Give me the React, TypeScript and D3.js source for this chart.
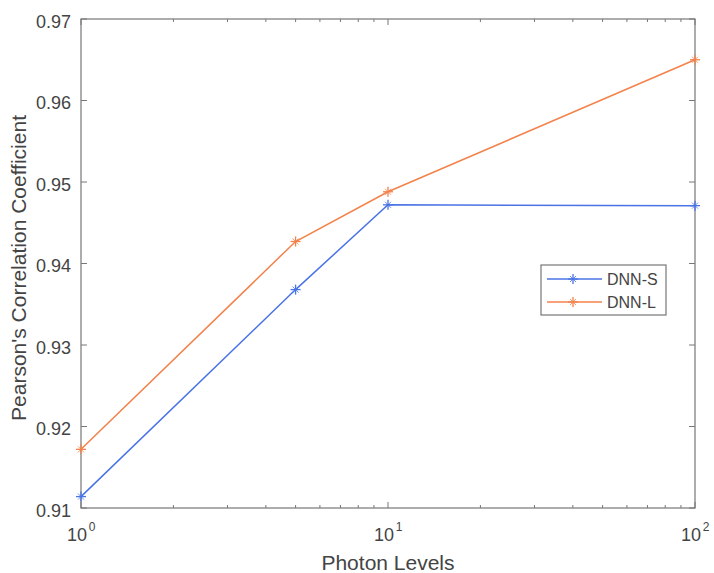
import React from "react";
import * as d3 from "d3";

const photonLevels = [1, 5, 10, 100];
const dnnS = [0.9114, 0.9368, 0.9472, 0.9471];
const dnnL = [0.9172, 0.9427, 0.9488, 0.965];
const yTicks = [0.91, 0.92, 0.93, 0.94, 0.95, 0.96, 0.97];
const xMajor = [1, 10, 100];
const xExp = ["0", "1", "2"];
const seriesNames = ["DNN-S", "DNN-L"];
const seriesColors = ["#4a73e6", "#f3824a"];

export default function App() {
  const W = 714, H = 573;
  const L = 81, R = 695, T = 19, B = 508;
  const x = d3.scaleLog().domain([1, 100]).range([L, R]);
  const y = d3.scaleLinear().domain([0.91, 0.97]).range([B, T]);
  const minor: number[] = [];
  for (const d of [1, 10]) for (let k = 2; k <= 9; k++) minor.push(d * k);
  const line = d3.line<[number, number]>().x(d => x(d[0])).y(d => y(d[1]));
  const series = [dnnS, dnnL];
  const axisColor = "#777";
  const textColor = "#444";
  const font = "Liberation Sans, Arial, sans-serif";
  const star = (cx: number, cy: number, c: string, k: string) => (
    <g key={k} stroke={c} strokeWidth={1.3}>
      <line x1={cx - 5} y1={cy} x2={cx + 5} y2={cy} />
      <line x1={cx} y1={cy - 5} x2={cx} y2={cy + 5} />
      <line x1={cx - 3} y1={cy - 3} x2={cx + 3} y2={cy + 3} strokeWidth={0.8} />
      <line x1={cx - 3} y1={cy + 3} x2={cx + 3} y2={cy - 3} strokeWidth={0.8} />
    </g>
  );
  return (
    <svg width={W} height={H} style={{ position: "absolute", left: 0, top: 0 }} fontFamily={font}>
      <rect x={0} y={0} width={W} height={H} fill="#fff" />
      <rect x={L} y={T} width={R - L} height={B - T} fill="none" stroke={axisColor} strokeWidth={1.2} />
      {yTicks.map(t => (
        <g key={"y" + t}>
          <line x1={L} x2={L + 6} y1={y(t)} y2={y(t)} stroke={axisColor} />
          <line x1={R} x2={R - 6} y1={y(t)} y2={y(t)} stroke={axisColor} />
          <text x={71} y={y(t) + 8.5} textAnchor="end" fontSize={18} fill={textColor}>{t.toFixed(2)}</text>
        </g>
      ))}
      {minor.map(m => (
        <g key={"m" + m}>
          <line x1={x(m)} x2={x(m)} y1={B} y2={B - 3} stroke={axisColor} />
          <line x1={x(m)} x2={x(m)} y1={T} y2={T + 3} stroke={axisColor} />
        </g>
      ))}
      {xMajor.map((m, i) => (
        <g key={"M" + m}>
          <line x1={x(m)} x2={x(m)} y1={B} y2={B - 6} stroke={axisColor} />
          <line x1={x(m)} x2={x(m)} y1={T} y2={T + 6} stroke={axisColor} />
          <text x={x(m) - 4} y={541} textAnchor="middle" fontSize={18} fill={textColor}>
            10
          </text>
          <text x={x(m) + 11} y={531} textAnchor="middle" fontSize={12} fill={textColor}>{xExp[i]}</text>
        </g>
      ))}
      {series.map((s, si) => (
        <g key={"s" + si}>
          <path d={line(photonLevels.map((p, i) => [p, s[i]]) as [number, number][]) || ""} fill="none" stroke={seriesColors[si]} strokeWidth={1.5} />
          {photonLevels.map((p, i) => star(x(p), y(s[i]), seriesColors[si], "p" + si + i))}
        </g>
      ))}
      <text x={(L + R) / 2} y={570} textAnchor="middle" fontSize={21} fill={textColor}>Photon Levels</text>
      <text transform={`translate(26, 268) rotate(-90)`} textAnchor="middle" fontSize={21} fill={textColor}>Pearson's Correlation Coefficient</text>
      <g>
        <rect x={541} y={265} width={125} height={50} fill="#fff" stroke={axisColor} strokeWidth={1.2} />
        {seriesNames.map((n, i) => (
          <g key={n}>
            <line x1={547} x2={602} y1={279 + i * 23} y2={279 + i * 23} stroke={seriesColors[i]} strokeWidth={1.5} />
            {star(573, 279 + i * 23, seriesColors[i], "l" + i)}
            <text x={607} y={285 + i * 23} fontSize={16} fill={textColor}>{n}</text>
          </g>
        ))}
      </g>
    </svg>
  );
}
